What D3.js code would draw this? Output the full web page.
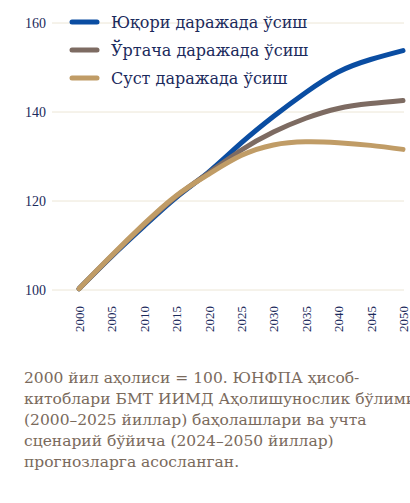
<!DOCTYPE html>
<html><head><meta charset="utf-8">
<script src="https://cdn.jsdelivr.net/npm/d3@7"></script>
<style>
body{margin:0;background:#fff;font-family:"Liberation Serif","DejaVu Serif",serif;}
</style></head><body>
<svg id="chart" width="410" height="503"></svg>
<script>
const years = [2000, 2005, 2010, 2015, 2020, 2025, 2030, 2035, 2040, 2045, 2050];
const high = [100.3, 107.5, 114.3, 120.8, 126.5, 133, 139, 144.4, 149, 151.8, 153.8];
const medium = [100.3, 107.6, 114.6, 121, 126.3, 131.4, 135.5, 138.6, 140.8, 141.9, 142.6];
const low = [100.3, 107.7, 114.8, 121.2, 126, 130.2, 132.6, 133.3, 133.1, 132.5, 131.6];
const yTicks = [100, 120, 140, 160];
const seriesNames = ['Юқори даражада ўсиш', 'Ўртача даражада ўсиш', 'Суст даражада ўсиш'];
const colors = ['#0a4da2', '#7d6b62', '#c09c66'];
const caption = [
  '2000 йил аҳолиси = 100. ЮНФПА ҳисоб-',
  'китоблари БМТ ИИМД Аҳолишунослик бўлими',
  '(2000–2025 йиллар) баҳолашлари ва учта',
  'сценарий бўйича (2024–2050 йиллар)',
  'прогнозларга асосланган.'
];

const svg = d3.select('#chart');
const x = d3.scaleLinear().domain([2000, 2050]).range([79, 403]);
const y = d3.scaleLinear().domain([100, 160]).range([290, 23]);

// grid
svg.append('g').selectAll('line').data(yTicks).join('line')
  .attr('x1', 52).attr('x2', 404)
  .attr('y1', d => y(d)).attr('y2', d => y(d))
  .attr('stroke', '#ece6d6').attr('stroke-width', 1);

svg.append('g').selectAll('text').data(yTicks).join('text')
  .attr('x', 46).attr('y', d => y(d) + 5)
  .attr('text-anchor', 'end').attr('font-size', 14).attr('fill', '#1b2a5c')
  .text(d => d);

svg.append('g').selectAll('text').data(years).join('text')
  .attr('transform', d => `translate(${x(d) + 5},${332}) rotate(-90)`)
  .attr('font-size', 13).attr('fill', '#1b2a5c')
  .text(d => d);

const line = d3.line().x((d, i) => x(years[i])).y(d => y(d)).curve(d3.curveNatural);
[high, medium, low].forEach((s, i) => {
  svg.append('path').datum(s).attr('d', line)
    .attr('fill', 'none').attr('stroke', colors[i])
    .attr('stroke-width', 5).attr('stroke-linecap', 'round');
});

// legend
seriesNames.forEach((n, i) => {
  const ly = 22 + i * 28;
  svg.append('line').attr('x1', 72).attr('x2', 97).attr('y1', ly).attr('y2', ly)
    .attr('stroke', colors[i]).attr('stroke-width', 5).attr('stroke-linecap', 'round');
  svg.append('text').attr('x', 111).attr('y', ly + 6)
    .attr('font-family', '"DejaVu Serif", serif')
    .attr('font-size', 16).attr('fill', '#1b2a5c').text(n);
});

svg.append('g').selectAll('text').data(caption).join('text')
  .attr('x', 24).attr('y', (d, i) => 383 + i * 21)
  .attr('font-family', '"DejaVu Serif", serif')
  .attr('font-size', 15.5).attr('fill', '#7a6a5c')
  .text(d => d);
</script>
</body></html>
